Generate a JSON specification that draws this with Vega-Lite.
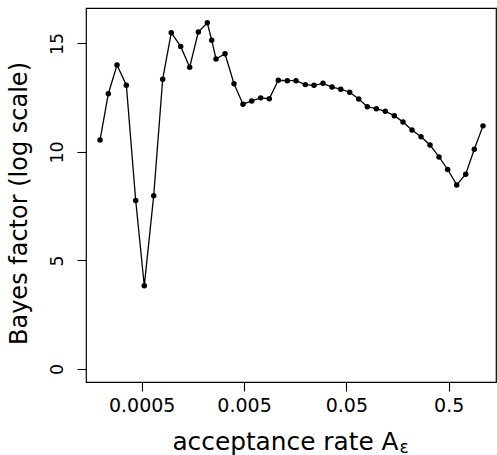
{
  "$schema": "https://vega.github.io/schema/vega-lite/v6.json",
  "width": 410,
  "height": 374,
  "autosize": {"type": "none"},
  "padding": {"left": 86, "top": 8, "right": 1, "bottom": 73},
  "background": "white",
  "config": {
    "view": {"stroke": "black", "strokeWidth": 1.2},
    "axis": {
      "domain": false,
      "grid": false,
      "tickColor": "black",
      "tickSize": 9,
      "tickWidth": 1.1,
      "labelColor": "black",
      "titleColor": "black",
      "labelFont": "DejaVu Sans",
      "titleFont": "DejaVu Sans",
      "titleFontWeight": "normal"
    }
  },
  "data": {
    "values": [
      {"rate": 0.000196, "bf": 10.55},
      {"rate": 0.000236, "bf": 12.68},
      {"rate": 0.000287, "bf": 14.00},
      {"rate": 0.000354, "bf": 13.07},
      {"rate": 0.000437, "bf": 7.76},
      {"rate": 0.000530, "bf": 3.83},
      {"rate": 0.000655, "bf": 7.98},
      {"rate": 0.000802, "bf": 13.35},
      {"rate": 0.000973, "bf": 15.49},
      {"rate": 0.001202, "bf": 14.86},
      {"rate": 0.001472, "bf": 13.90},
      {"rate": 0.001787, "bf": 15.52},
      {"rate": 0.002189, "bf": 15.95},
      {"rate": 0.002416, "bf": 15.15},
      {"rate": 0.002662, "bf": 14.28},
      {"rate": 0.003259, "bf": 14.52},
      {"rate": 0.003990, "bf": 13.14},
      {"rate": 0.004885, "bf": 12.20},
      {"rate": 0.005942, "bf": 12.35},
      {"rate": 0.007276, "bf": 12.49},
      {"rate": 0.00883, "bf": 12.45},
      {"rate": 0.01081, "bf": 13.30},
      {"rate": 0.01324, "bf": 13.28},
      {"rate": 0.0161, "bf": 13.28},
      {"rate": 0.01985, "bf": 13.10},
      {"rate": 0.02414, "bf": 13.07},
      {"rate": 0.02956, "bf": 13.16},
      {"rate": 0.03620, "bf": 12.99},
      {"rate": 0.04405, "bf": 12.89},
      {"rate": 0.0539, "bf": 12.75},
      {"rate": 0.0660, "bf": 12.44},
      {"rate": 0.0801, "bf": 12.08},
      {"rate": 0.0981, "bf": 11.99},
      {"rate": 0.1201, "bf": 11.87},
      {"rate": 0.1471, "bf": 11.67},
      {"rate": 0.1789, "bf": 11.38},
      {"rate": 0.2189, "bf": 11.01},
      {"rate": 0.2681, "bf": 10.70},
      {"rate": 0.3284, "bf": 10.32},
      {"rate": 0.4021, "bf": 9.77},
      {"rate": 0.4890, "bf": 9.19},
      {"rate": 0.5988, "bf": 8.48},
      {"rate": 0.7333, "bf": 8.97},
      {"rate": 0.8897, "bf": 10.12},
      {"rate": 1.082, "bf": 11.20}
    ]
  },
  "layer": [
    {
      "mark": {"type": "line", "color": "black", "strokeWidth": 1.3},
      "encoding": {
        "x": {
          "field": "rate",
          "type": "quantitative",
          "scale": {"type": "log", "domain": [0.0001428, 1.4496], "nice": false},
          "axis": {
            "orient": "bottom",
            "values": [0.0005, 0.005, 0.05, 0.5],
            "labelExpr": "datum.value < 0.001 ? '0.0005' : datum.value < 0.01 ? '0.005' : datum.value < 0.1 ? '0.05' : '0.5'",
            "labelFontSize": 19,
            "labelPadding": 5,
            "labelBaseline": "top",
            "labelFlush": false,
            "labelOverlap": false,
            "title": "acceptance rate A",
            "titleFontSize": 24.8,
            "titleX": 312,
            "titleY": 67,
            "titleAlign": "right",
            "titleBaseline": "alphabetic"
          }
        },
        "y": {
          "field": "bf",
          "type": "quantitative",
          "scale": {"domain": [-0.6, 16.63], "nice": false, "zero": false},
          "axis": {
            "values": [0, 5, 10, 15],
            "labelAngle": -90,
            "labelAlign": "center",
            "labelBaseline": "alphabetic",
            "labelPadding": 15,
            "labelFontSize": 17.5,
            "labelFlush": false,
            "labelOverlap": false,
            "title": "Bayes factor (log scale)",
            "titleFontSize": 24,
            "titleAngle": -90,
            "titleX": -59.3,
            "titleY": 195,
            "titleAlign": "center",
            "titleBaseline": "alphabetic"
          }
        }
      }
    },
    {
      "mark": {"type": "point", "filled": true, "color": "black", "size": 30, "opacity": 1},
      "encoding": {
        "x": {
          "field": "rate",
          "type": "quantitative",
          "axis": {
            "orient": "bottom",
            "labels": false,
            "ticks": false,
            "domain": false,
            "grid": false,
            "title": "ε",
            "titleFontSize": 17,
            "titleX": 313,
            "titleY": 70,
            "titleAlign": "left",
            "titleBaseline": "alphabetic"
          }
        },
        "y": {"field": "bf", "type": "quantitative"}
      }
    }
  ],
  "resolve": {"axis": {"x": "independent"}}
}
